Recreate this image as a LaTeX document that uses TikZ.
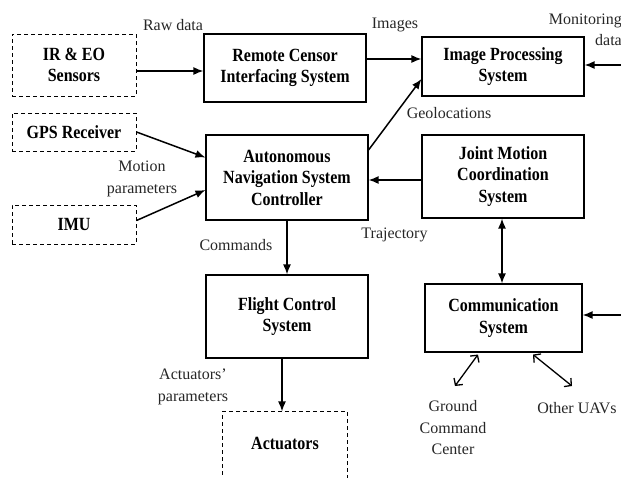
\documentclass[tikz,border=0pt]{standalone}
\usepackage{fontspec}
\setmainfont{Liberation Serif}
\newfontfamily\boxfont[FakeStretch=0.86]{Liberation Serif}
\usetikzlibrary{arrows.meta,calc}
\begin{document}
\begin{tikzpicture}[x=1pt,y=-1pt,
  box/.style={draw, line width=1.1pt, inner sep=0pt, align=center,
    font=\boxfont\bfseries\fontsize{18.6}{21.5}\selectfont},
  dbox/.style={box, line width=1pt, dash pattern=on 4pt off 3pt},
  lbl/.style={font=\fontsize{16}{21.5}\selectfont, align=center, text=black!85, inner sep=0pt},
  arr/.style={line width=1.5pt, -{Latex[length=10pt,width=8pt]}},
  darr/.style={line width=1.5pt, {Latex[length=10pt,width=8pt]}-{Latex[length=10pt,width=8pt]}},
  barr/.style={line width=1.3pt, {Straight Barb[length=5pt,width=11pt]}-{Straight Barb[length=5pt,width=11pt]}}]
\useasboundingbox (0,0) rectangle (621,477);

% boxes
\node[dbox, minimum width=124pt, minimum height=62pt] (ir) at (74,65) {IR \& EO\\Sensors};
\node[dbox, minimum width=124pt, minimum height=38pt] (gps) at (74,132) {GPS Receiver};
\node[dbox, minimum width=124pt, minimum height=39pt] (imu) at (74,224.5) {IMU};
\node[box, minimum width=162pt, minimum height=68pt] (rcis) at (285,68) {Remote Censor\\Interfacing System};
\node[box, minimum width=162pt, minimum height=59pt] (ips) at (503,66.5) {Image Processing\\System};
\node[box, minimum width=162pt, minimum height=85pt] (ans) at (287,177.5) {Autonomous\\Navigation System\\Controller};
\node[box, minimum width=162pt, minimum height=83pt] (jmcs) at (503,176.5) {Joint Motion\\Coordination\\System};
\node[box, minimum width=162pt, minimum height=83pt] (fcs) at (287,316.5) {Flight Control\\System};
\node[box, minimum width=157pt, minimum height=68pt] (comm) at (503.5,318) {Communication\\System};
\node[box, draw=none, minimum width=124pt, minimum height=62pt] (act) at (285,443) {Actuators};
\draw[line width=1pt, dash pattern=on 4pt off 3pt]
  ([yshift=-14pt]act.south west) |- (act.north east) -- ([yshift=-14pt]act.south east);

% free ends
\coordinate (mon) at (621,65);
\coordinate (cin) at (621,315);
\coordinate (gcc) at (455,386);
\coordinate (uav) at (572,386);

% connectors
\draw[arr] ([yshift=-6pt]ir.east) -- ([yshift=-6pt]ir.east -| rcis.west);
\draw[arr] ([yshift=9pt]rcis.east) -- ([yshift=9pt]rcis.east -| ips.west);
\draw[arr] (mon) -- (mon -| ips.east);
\draw[arr] (gps.east) -- ([yshift=20pt]ans.west);
\draw[arr] ([yshift=4pt]imu.east) -- ([yshift=-12.5pt]ans.west);
\draw[arr] ([yshift=-3.5pt]jmcs.west) -- ([yshift=-3.5pt]jmcs.west -| ans.east);
\draw[arr] ([yshift=27.5pt]ans.east) -- ([yshift=-12.5pt]ips.west);
\draw[arr] (ans.south) -- (fcs.north);
\draw[arr] ([xshift=-5pt]fcs.south) -- ([xshift=-5pt]fcs.south |- act.north);
\draw[darr] ([xshift=-1pt]jmcs.south) -- ([xshift=-1pt]jmcs.south |- comm.north);
\draw[arr] (cin) -- (cin -| comm.east);
\draw[barr] ([xshift=-25.5pt,yshift=-2pt]comm.south) -- (gcc);
\draw[barr] ([xshift=29.5pt,yshift=-2pt]comm.south) -- (uav);

% labels
\node[lbl] (lraw) at (173,25) {Raw data};
\node[lbl] (limg) at (395,25) {Images};
\node[lbl, align=right, anchor=east] (lmon) at (622,30) {Monitoring\\data};
\node[lbl] (lgeo) at (449,113) {Geolocations};
\node[lbl] (lmot) at (142,179) {Motion\\parameters};
\node[lbl] (lcmd) at (236,245) {Commands};
\node[lbl] (ltraj) at (394.5,235) {Trajectory};
\node[lbl] (lactp) at (193,387) {Actuators’\\parameters};
\node[lbl] (lgcc) at (453,428) {Ground\\Command\\Center};
\node[lbl] (luav) at (577,408) {Other UAVs};
\end{tikzpicture}
\end{document}
